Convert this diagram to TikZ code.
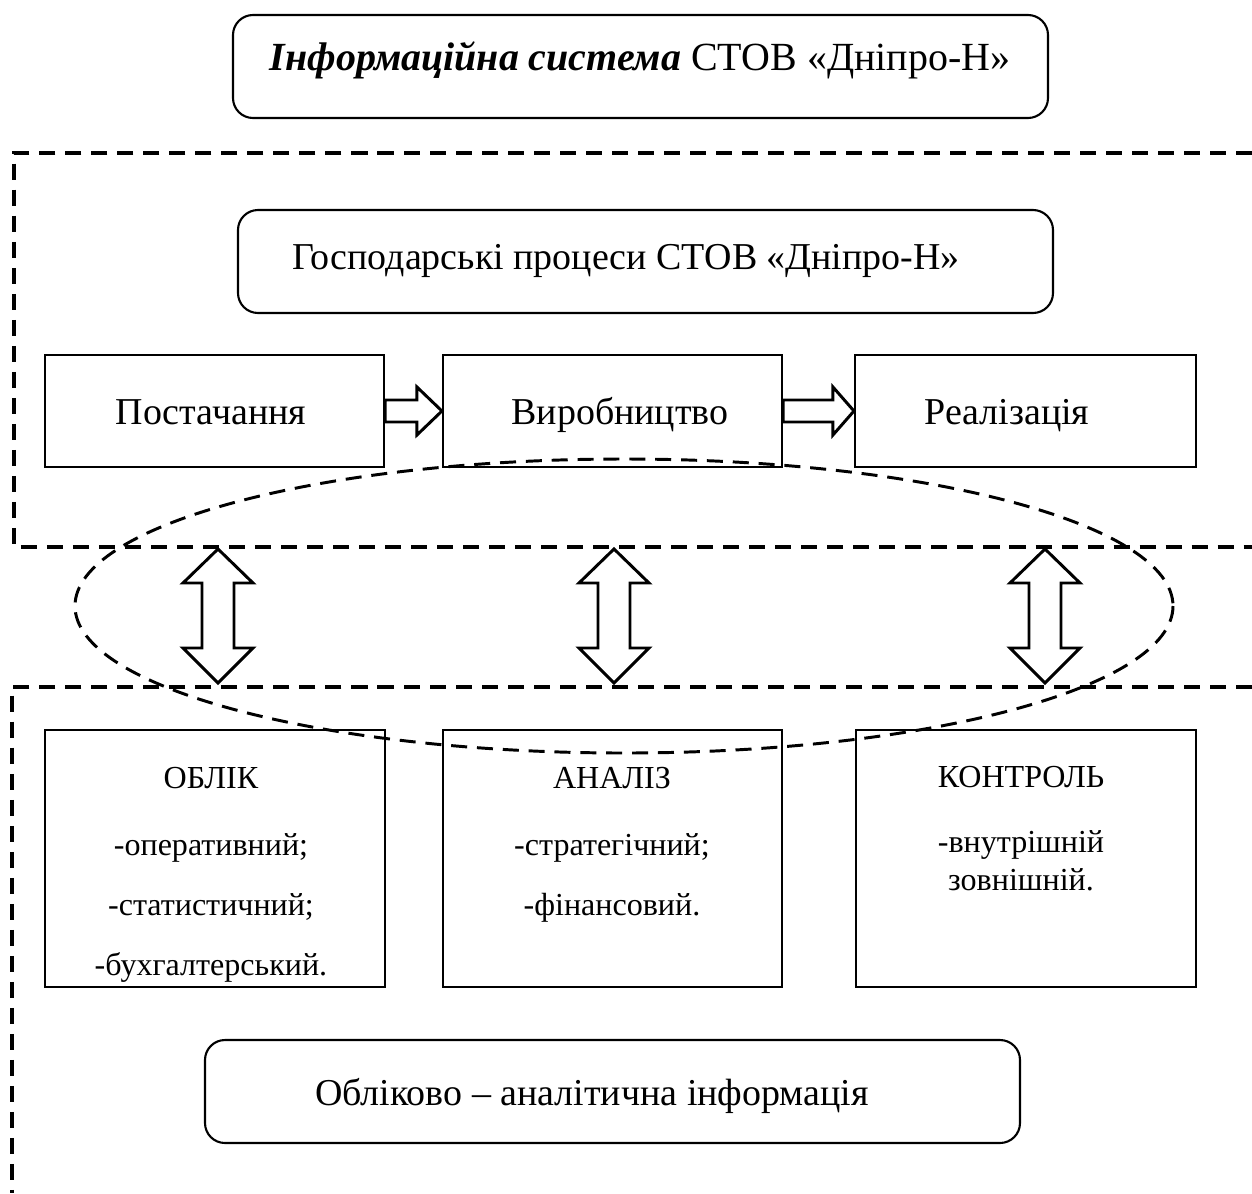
\documentclass[tikz,border=0pt]{standalone}
\usepackage{fontspec}
\setmainfont{Liberation Serif}
\usetikzlibrary{calc}
\def\pxu{0.025cm}
\begin{document}
\begin{tikzpicture}[x=0.025cm,y=-0.025cm,
  sqbox/.style={draw,line width=1.5pt,inner sep=0pt},
  rbox/.style={sqbox,rounded corners=0.5cm},
  bigtxt/.style={font=\fontsize{27}{32}\selectfont,inner sep=0pt,anchor=base},
  titletxt/.style={font=\fontsize{28.4}{33}\selectfont,inner sep=0pt,anchor=base},
  smalltxt/.style={font=\fontsize{22.8}{27}\selectfont,inner sep=0pt,anchor=base},
  frameline/.style={line width=2.8pt,dash pattern=on 11.4pt off 7.1pt},
  ellline/.style={line width=2.1pt,dash pattern=on 11.4pt off 7pt},
  blockarrow/.style={draw,line width=2.1pt,fill=white,line join=miter}]
\useasboundingbox (0,0) rectangle (1252,1193);

% frames
\draw[frameline] (1252,153) -- (14,153) -- (14,547) -- (1252,547);
\draw[frameline] (1252,687) -- (12,687) -- (12,1193);

% boxes
\node[rbox,minimum width=815*\pxu,minimum height=103*\pxu] (title) at (640.5,66.5) {};
\node[rbox,minimum width=815*\pxu,minimum height=103*\pxu] (gosp) at (645.5,261.5) {};
\node[sqbox,minimum width=339*\pxu,minimum height=112*\pxu] (post) at (214.5,411) {};
\node[sqbox,minimum width=339*\pxu,minimum height=112*\pxu] (vyr) at (612.5,411) {};
\node[sqbox,minimum width=341*\pxu,minimum height=112*\pxu] (real) at (1025.5,411) {};
\node[sqbox,minimum width=340*\pxu,minimum height=257*\pxu] (oblik) at (215,858.5) {};
\node[sqbox,minimum width=339*\pxu,minimum height=257*\pxu] (analiz) at (612.5,858.5) {};
\node[sqbox,minimum width=340*\pxu,minimum height=257*\pxu] (kontrol) at (1026,858.5) {};
\node[rbox,minimum width=815*\pxu,minimum height=103*\pxu] (info) at (612.5,1091.5) {};

% texts
\node[titletxt] (t-title) at (640,70) {\textbf{\textit{Інформаційна система}} СТОВ «Дніпро-Н»};
\node[bigtxt] (t-gosp) at (626,269) {Господарські процеси СТОВ «Дніпро-Н»};
\node[bigtxt] (t-post) at (211,424) {Постачання};
\node[bigtxt] (t-vyr) at (620,424) {Виробництво};
\node[bigtxt] (t-real) at (1007,424) {Реалізація};
\node[bigtxt] (t-info) at (592,1105) {Обліково – аналітична інформація};

\node[smalltxt] (o1) at (211,788) {ОБЛІК};
\node[smalltxt] (o2) at (211,855) {-оперативний;};
\node[smalltxt] (o3) at (211,915) {-статистичний;};
\node[smalltxt] (o4) at (211,975) {-бухгалтерський.};
\node[smalltxt] (a1t) at (612,788) {АНАЛІЗ};
\node[smalltxt] (a2t) at (612,855) {-стратегічний;};
\node[smalltxt] (a3t) at (612,915) {-фінансовий.};
\node[smalltxt] (k1) at (1021,787) {КОНТРОЛЬ};
\node[smalltxt] (k2) at (1021,852) {-внутрішній};
\node[smalltxt] (k3) at (1021,890) {зовнішній.};

% horizontal block arrows
\draw[blockarrow] ($(post.east)+(0,-11)$) -- ($(vyr.west)+(-25,-11)$) -- ($(vyr.west)+(-25,-24)$) -- (vyr.west)
  -- ($(vyr.west)+(-25,24)$) -- ($(vyr.west)+(-25,11)$) -- ($(post.east)+(0,11)$) -- cycle;
\draw[blockarrow] ($(vyr.east)+(0,-11)$) -- ($(real.west)+(-21,-11)$) -- ($(real.west)+(-21,-24)$) -- (real.west)
  -- ($(real.west)+(-21,24)$) -- ($(real.west)+(-21,11)$) -- ($(vyr.east)+(0,11)$) -- cycle;

% vertical double block arrows
\foreach \cx/\nm in {218/va1, 614/va2, 1045/va3} {
  \coordinate (\nm) at (\cx,616);
  \draw[blockarrow] (\cx,549) -- (\cx+35,583) -- (\cx+16,583) -- (\cx+16,648) -- (\cx+35,648) -- (\cx,683)
    -- (\cx-35,648) -- (\cx-16,648) -- (\cx-16,583) -- (\cx-35,583) -- cycle;
}

% dashed ellipse
\draw[ellline] (624,606) ellipse [x radius=549, y radius=147];
\end{tikzpicture}
\end{document}
